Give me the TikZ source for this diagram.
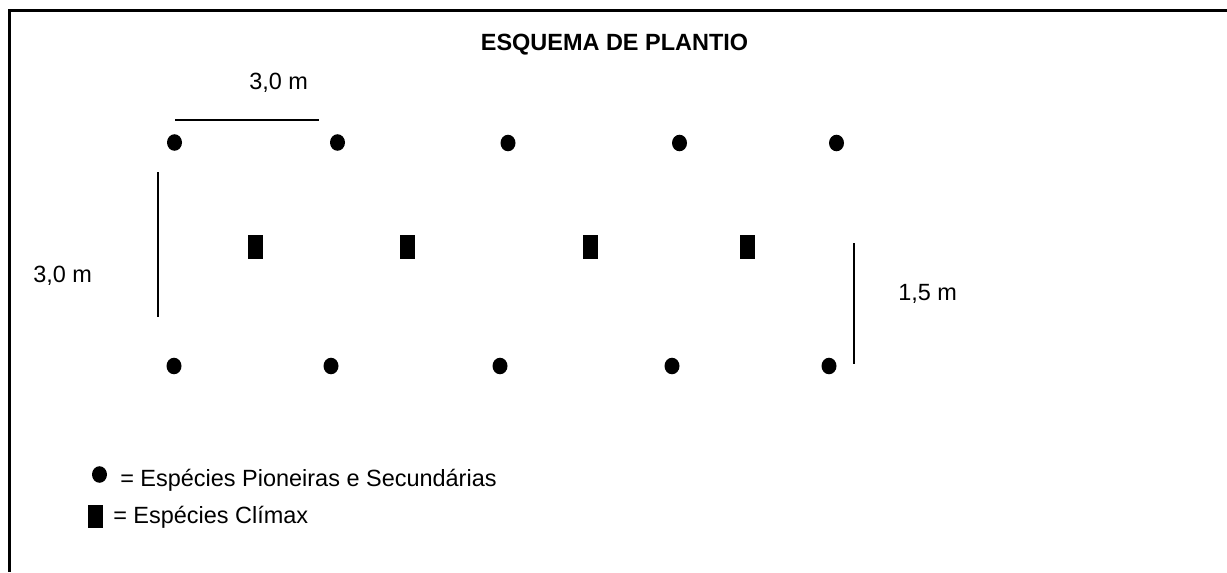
\documentclass[tikz,border=0pt]{standalone}
\usepackage{fontspec}
\setmainfont{Liberation Sans}
\usetikzlibrary{shapes.geometric}

\begin{document}
\begin{tikzpicture}[x=0.75pt,y=-0.75pt,
						pioneira/.style={ellipse, fill=black, inner sep=0pt, minimum width=11.25pt, minimum height=12.4pt},
						climax/.style={rectangle, fill=black, inner sep=0pt, minimum width=11.25pt, minimum height=18pt},
						rotulo/.style={font=\fontsize{17.6}{21}\selectfont, inner sep=0pt, anchor=base west},
						cota/.style={line width=1.3pt},
						]
						\useasboundingbox (0,0) rectangle (1227,572);
						%Frame
						\draw[line width=1.9pt] (1227,10.5) -- (9.7,10.5) -- (9.7,572);
						%Nodes
						\node[rotulo, anchor=base, font=\fontsize{17.6}{21}\selectfont\bfseries] (titulo) at (614.5,50) {ESQUEMA DE PLANTIO};
						\node[rotulo]      (cota1) 	at 	(249,89)           {3,0 m};
						\node[rotulo]      (cota2) 	at 	(33,282)           {3,0 m};
						\node[rotulo]      (cota3) 	at 	(898,300)          {1,5 m};
						\node[pioneira]      (t1) 	at 	(174.5,142.5)      {};
						\node[pioneira]      (t2) 	at 	(337.5,142.5)      {};
						\node[pioneira]      (t3) 	at 	(508,143)          {};
						\node[pioneira]      (t4) 	at 	(679.5,143)        {};
						\node[pioneira]      (t5) 	at 	(836.5,143)        {};
						\node[climax]      (c1) 	at 	(255.5,246.5)      {};
						\node[climax]      (c2) 	at 	(407.5,246.5)      {};
						\node[climax]      (c3) 	at 	(590,246.5)        {};
						\node[climax]      (c4) 	at 	(747,246.5)        {};
						\node[pioneira]      (b1) 	at 	(174,366)          {};
						\node[pioneira]      (b2) 	at 	(331,366)          {};
						\node[pioneira]      (b3) 	at 	(500,366)          {};
						\node[pioneira]      (b4) 	at 	(672,366)          {};
						\node[pioneira]      (b5) 	at 	(829,366)          {};
						%Legend
						\node[pioneira]      (lp) 	at 	(99.5,474.5)       {};
						\node[rotulo]      (lpt) 	at 	(120,486)          {= Espécies Pioneiras e Secundárias};
						\node[climax, minimum height=17pt]      (lc) 	at 	(95.5,516.5)       {};
						\node[rotulo]      (lct) 	at 	(113,523)          {= Espécies Clímax};
						%Lines
						\coordinate (h1) at (175,120);
						\coordinate (h2) at (319,120);
						\coordinate (v1) at (158,172);
						\coordinate (v2) at (158,317);
						\coordinate (w1) at (854,243);
						\coordinate (w2) at (854,364);
						\draw[cota] (h1) -- (h2);
						\draw[cota] (v1) -- (v2);
						\draw[cota] (w1) -- (w2);
					\end{tikzpicture}
\end{document}
